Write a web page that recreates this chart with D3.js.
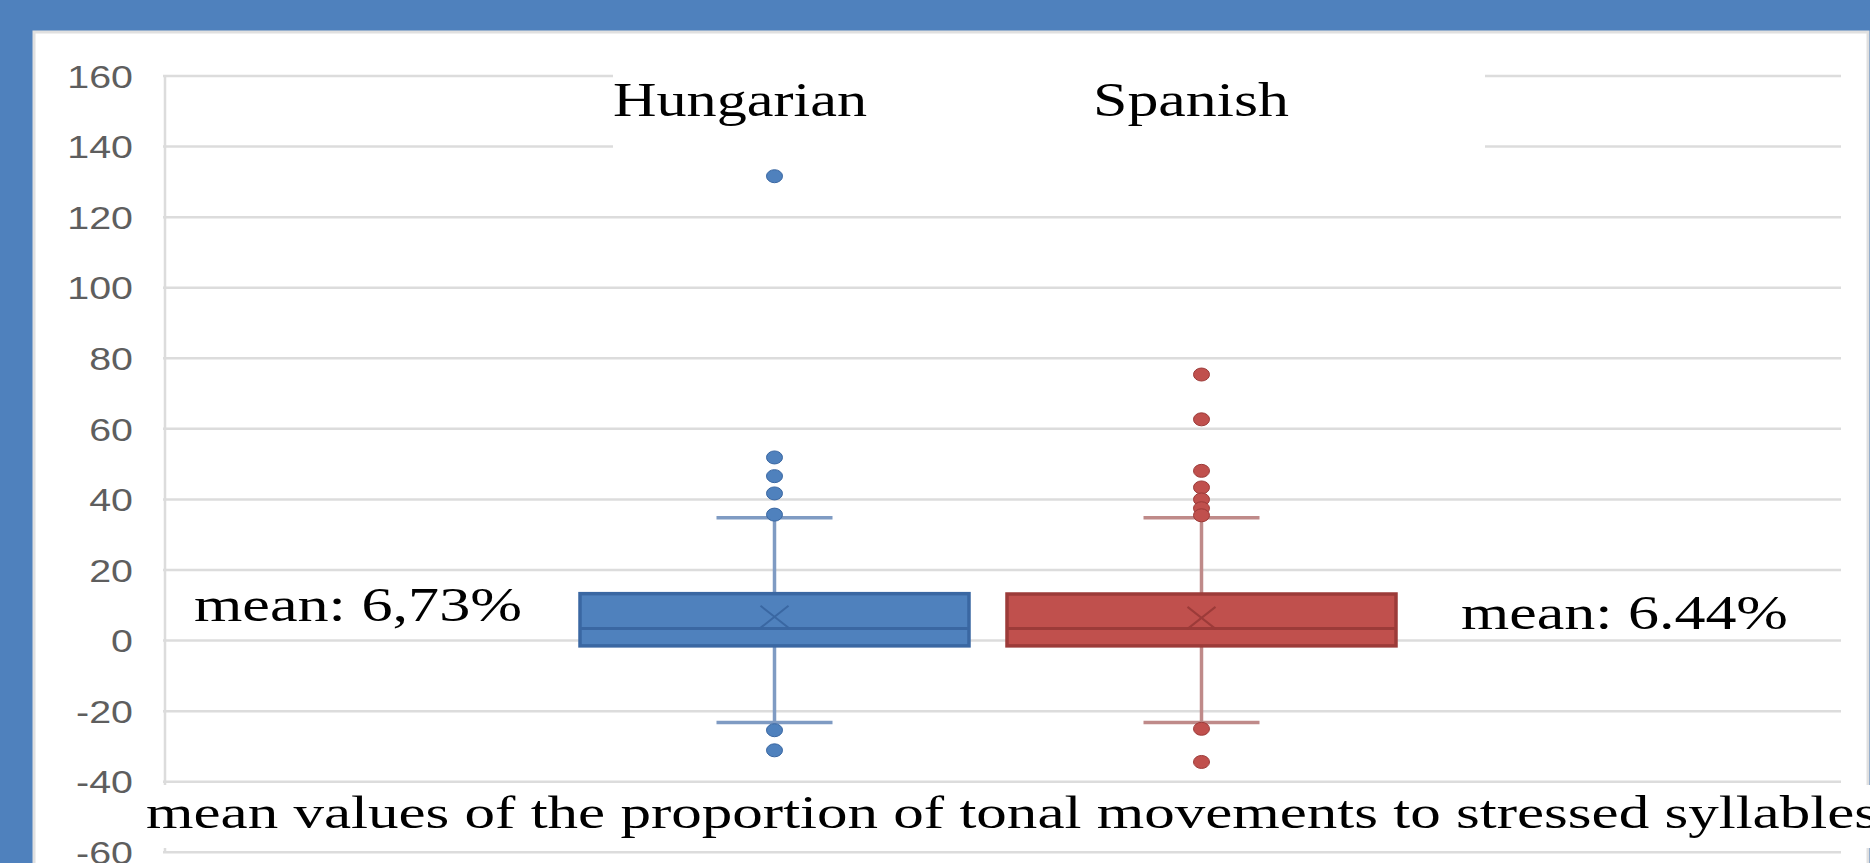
<!DOCTYPE html>
<html>
<head>
<meta charset="utf-8">
<script src="https://cdn.jsdelivr.net/npm/d3@7"></script>
<style>
  html, body { margin: 0; padding: 0; background: #4F81BD; overflow: hidden; }
  svg { display: block; }
</style>
</head>
<body>
<div id="chart"></div>
<script>
// Data
const seriesNames = ["Hungarian", "Spanish"];
const q1Values = [-1.5, -1.5];
const medianValues = [3.4, 3.4];
const q3Values = [13.3, 13.2];
const meanValues = [6.73, 6.44];
const whiskerLowValues = [-23.2, -23.2];
const whiskerHighValues = [34.8, 34.8];
const hungarianOutliers = [131.6, 51.9, 46.6, 41.7, 35.7, -25.4, -31.1];
const spanishOutliers = [75.4, 62.7, 48.1, 43.4, 40.0, 37.5, 35.5, -25.0, -34.4];
const meanLabels = ["mean: 6,73%", "mean: 6.44%"];
const yTickValues = [-60, -40, -20, 0, 20, 40, 60, 80, 100, 120, 140, 160];
const xAxisTitle = "mean values of the proportion of tonal movements to stressed syllables";

// Layout
const CHART = {
    width: 1870,
    height: 863,
    panel: { left: 34, top: 32 },
    plot: { left: 165, right: 1841, top: 76, bottom: 852.3 },
    boxes: { left: 580, right: 1396 }
};

const COLORS = {
    fill: ["#4F81BD", "#C0504D"],
    stroke: ["#3A67A2", "#9C3B39"],
    whisker: ["#7F9BC3", "#BF8A89"],
    grid: "#DCDCDC",
    label: "#5E5E5E"
};

const SERIF = "'Liberation Serif', 'Times New Roman', serif";

const svg = d3.select("#chart")
    .append("svg")
    .attr("width", CHART.width)
    .attr("height", CHART.height);

// Scales
const y = d3.scaleLinear()
    .domain([-60, 160])
    .range([CHART.plot.bottom, CHART.plot.top]);

const x = d3.scaleBand()
    .domain(seriesNames)
    .range([CHART.boxes.left, CHART.boxes.right])
    .paddingInner(0.089)
    .paddingOuter(0);

/**
 * Stretches a text element horizontally (the picture is wider than it is tall)
 */
function stretchText(sel, target) {
    sel.each(function () {
        const w = target || this.getComputedTextLength() * 1.27;
        d3.select(this)
            .attr("textLength", w)
            .attr("lengthAdjust", "spacingAndGlyphs");
    });
}

/**
 * Background panel, gridlines and y axis
 */
function drawFrame() {
    svg.append("rect")
        .attr("x", CHART.panel.left)
        .attr("y", CHART.panel.top)
        .attr("width", CHART.width - CHART.panel.left - 2)
        .attr("height", CHART.height - CHART.panel.top + 5)
        .attr("fill", "#fff")
        .attr("stroke", "#E0E0E0")
        .attr("stroke-width", 3);

    svg.append("g")
        .selectAll("line")
        .data(yTickValues)
        .join("line")
        .attr("x1", CHART.plot.left - 2)
        .attr("x2", CHART.plot.right)
        .attr("y1", d => y(d))
        .attr("y2", d => y(d))
        .attr("stroke", COLORS.grid)
        .attr("stroke-width", 2.5);

    svg.append("line")
        .attr("x1", CHART.plot.left)
        .attr("x2", CHART.plot.left)
        .attr("y1", y(160))
        .attr("y2", y(-60))
        .attr("stroke", COLORS.grid)
        .attr("stroke-width", 2.5);

    const yAxis = svg.append("g")
        .attr("transform", `translate(${CHART.plot.left},0)`)
        .call(d3.axisLeft(y)
            .tickValues(yTickValues)
            .tickFormat(d => String(d))
            .tickSize(0)
            .tickPadding(32));

    yAxis.select(".domain").remove();
    yAxis.selectAll("text")
        .attr("fill", COLORS.label)
        .attr("font-family", "'Liberation Sans', Arial, sans-serif")
        .attr("font-size", 31)
        .attr("dy", "0.36em")
        .call(stretchText);
}

/**
 * Box, whiskers, median, mean marker and outliers for each series
 */
function drawBoxes() {
    const capHalf = 58;
    const outliers = [hungarianOutliers, spanishOutliers];

    seriesNames.forEach((name, i) => {
        const g = svg.append("g");
        const left = x(name);
        const bw = x.bandwidth();
        const cx = left + bw / 2;

        // whiskers
        [[q3Values[i], whiskerHighValues[i]], [q1Values[i], whiskerLowValues[i]]].forEach(([a, b]) => {
            g.append("line")
                .attr("x1", cx).attr("x2", cx)
                .attr("y1", y(a)).attr("y2", y(b))
                .attr("stroke", COLORS.whisker[i])
                .attr("stroke-width", 3.5);
            g.append("line")
                .attr("x1", cx - capHalf).attr("x2", cx + capHalf)
                .attr("y1", y(b)).attr("y2", y(b))
                .attr("stroke", COLORS.whisker[i])
                .attr("stroke-width", 3.5);
        });

        // box
        g.append("rect")
            .attr("x", left)
            .attr("y", y(q3Values[i]))
            .attr("width", bw)
            .attr("height", y(q1Values[i]) - y(q3Values[i]))
            .attr("fill", COLORS.fill[i])
            .attr("stroke", COLORS.stroke[i])
            .attr("stroke-width", 3.5);

        // median
        g.append("line")
            .attr("x1", left).attr("x2", left + bw)
            .attr("y1", y(medianValues[i])).attr("y2", y(medianValues[i]))
            .attr("stroke", COLORS.stroke[i])
            .attr("stroke-width", 3);

        // mean marker
        const my = y(meanValues[i]);
        g.append("path")
            .attr("d", `M${cx - 14},${my - 11}L${cx + 14},${my + 11}M${cx - 14},${my + 11}L${cx + 14},${my - 11}`)
            .attr("stroke", COLORS.stroke[i])
            .attr("stroke-width", 2)
            .attr("fill", "none");

        // outliers
        g.selectAll("ellipse")
            .data(outliers[i])
            .join("ellipse")
            .attr("cx", cx)
            .attr("cy", d => y(d))
            .attr("rx", 8)
            .attr("ry", 6.5)
            .attr("fill", COLORS.fill[i])
            .attr("stroke", COLORS.stroke[i])
            .attr("stroke-width", 1);
    });
}

/**
 * Legend labels, mean labels and the axis title
 */
function drawTexts() {
    // white box behind the series names
    svg.append("rect")
        .attr("x", 613).attr("y", 60)
        .attr("width", 1485 - 613).attr("height", 92)
        .attr("fill", "#fff");

    const legendPos = [{ x: 613, w: 254 }, { x: 1093, w: 196 }];
    seriesNames.forEach((name, i) => {
        svg.append("text")
            .attr("x", legendPos[i].x)
            .attr("y", 116)
            .attr("font-family", SERIF)
            .attr("font-size", 49)
            .attr("fill", "#000")
            .text(name)
            .call(stretchText, legendPos[i].w);
    });

    const meanPos = [{ x: 194, y: 621, w: 328 }, { x: 1461, y: 629, w: 327 }];
    meanLabels.forEach((label, i) => {
        svg.append("text")
            .attr("x", meanPos[i].x)
            .attr("y", meanPos[i].y)
            .attr("font-family", SERIF)
            .attr("font-size", 48)
            .attr("fill", "#000")
            .text(label)
            .call(stretchText, meanPos[i].w);
    });

    // axis title with its white background
    svg.append("rect")
        .attr("x", 140).attr("y", 785)
        .attr("width", CHART.width - 140).attr("height", 63)
        .attr("fill", "#fff");

    svg.append("text")
        .attr("x", 146)
        .attr("y", 828)
        .attr("font-family", SERIF)
        .attr("font-size", 47)
        .attr("fill", "#000")
        .text(xAxisTitle)
        .call(stretchText, 1732);
}

drawFrame();
drawBoxes();
drawTexts();
</script>
</body>
</html>
